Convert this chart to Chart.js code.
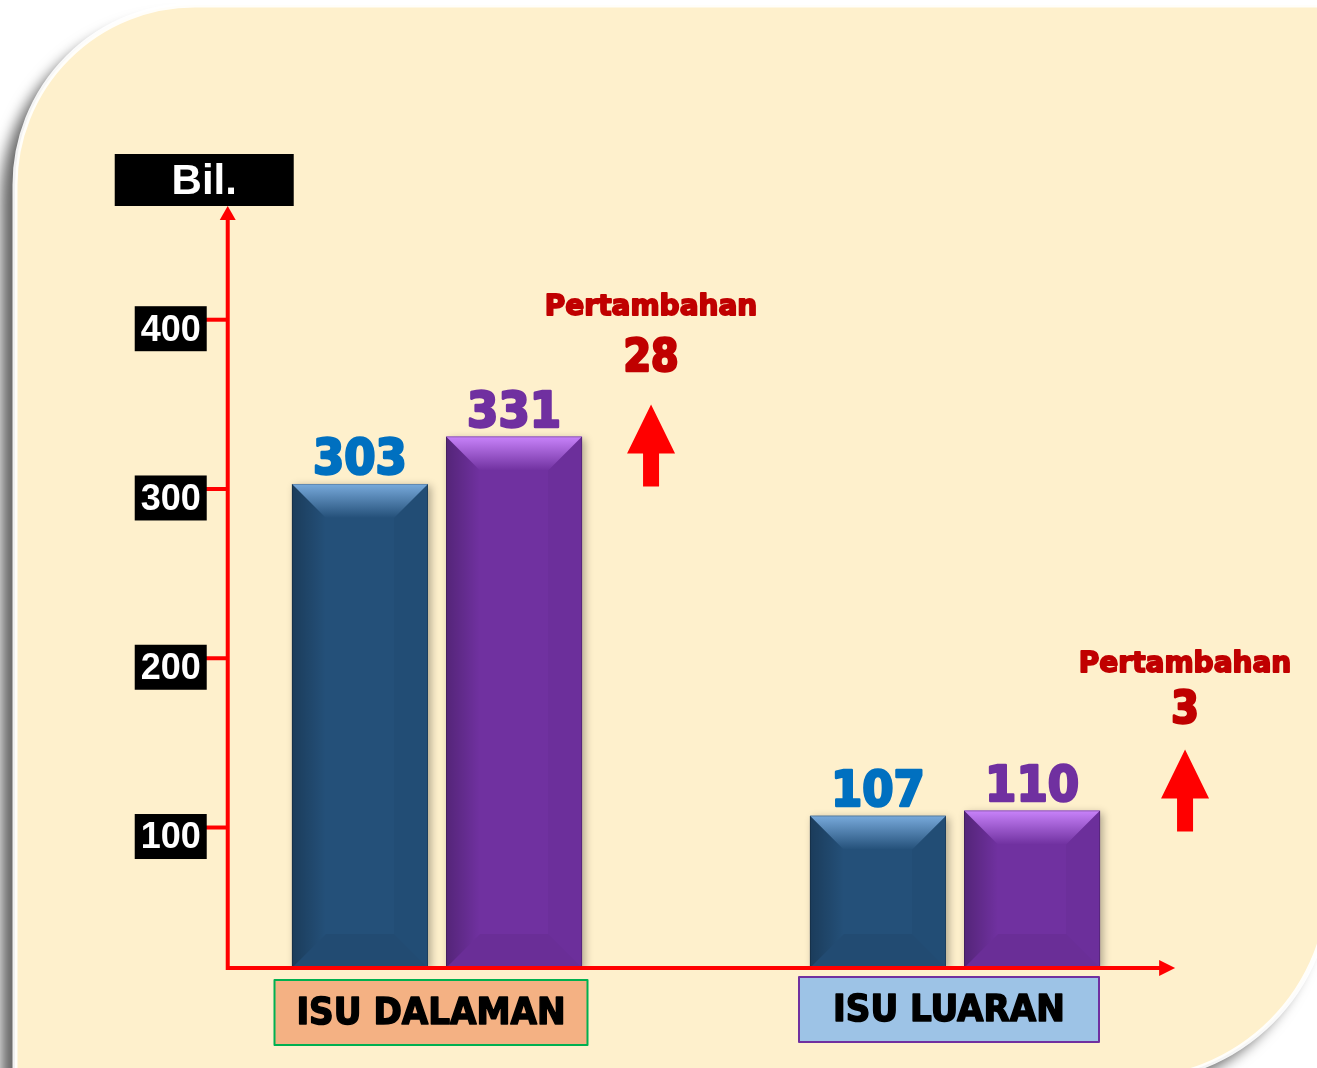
<!DOCTYPE html>
<html>
<head>
<meta charset="utf-8">
<script src="https://cdn.jsdelivr.net/npm/chart.js@4.4.1/dist/chart.umd.min.js"></script>
<style>
  html, body { margin: 0; padding: 0; background: #fff; }
  canvas { display: block; }
</style>
</head>
<body>
<canvas id="chart" width="1317" height="1068"></canvas>
<script>
// data
const categories = ['ISU DALAMAN', 'ISU LUARAN'];
const previousValues = [303, 107];
const currentValues = [331, 110];
const tickValues = [100, 200, 300, 400];
const axisTitle = 'Bil.';
const increaseLabel = 'Pertambahan';
const Y_MIN = 17, Y_MAX = 466;

// styles
const barColors = ['#245079', '#7031A0'];
const labelColors = ['#0070C0', '#7030A0'];
const bevelLight = ['rgba(125,175,225,', 'rgba(205,135,255,'];
const categoryBoxStyles = [
  { fill: '#F4B183', border: '#00B050', width: 313, dy: 12 },
  { fill: '#9DC3E6', border: '#7030A0', width: 300, dy: 9 },
];
// arrow offset from the top of the current-year bar, text offsets from the arrow tip
const annotationStyles = [
  { dx: 137, dy: -32, labelDy: -97, numDy: -45 },
  { dx: 153, dy: -61, labelDy: -85, numDy: -38 },
];
const RED = '#FF0000';
const DARK_RED = '#C00000';
const CONDENSED = '"DejaVu Sans Condensed", "DejaVu Sans", sans-serif';
const WIDE = '"DejaVu Sans", sans-serif';
const ARIAL = '"Liberation Sans", Arial, sans-serif';

function heavyText(ctx, text, x, y, color, weight) {
  ctx.fillStyle = color;
  ctx.strokeStyle = color;
  ctx.lineWidth = weight;
  ctx.lineJoin = 'round';
  ctx.strokeText(text, x, y);
  ctx.fillText(text, x, y);
}

function panelPath(ctx) {
  const x0 = 15, y0 = 5, x1 = 1330, y1 = 1080, r1 = 180, r2 = 200;
  ctx.beginPath();
  ctx.moveTo(x0 + r1, y0);
  ctx.lineTo(x1, y0);
  ctx.lineTo(x1, y1 - r2);
  ctx.arcTo(x1, y1, x1 - r2, y1, r2);
  ctx.lineTo(x0, y1);
  ctx.lineTo(x0, y0 + r1);
  ctx.arcTo(x0, y0, x0 + r1, y0, r1);
  ctx.closePath();
}

const panelPlugin = {
  id: 'panel',
  beforeDraw(chart) {
    const ctx = chart.ctx;
    ctx.save();
    ctx.fillStyle = '#fff';
    ctx.fillRect(0, 0, chart.width, chart.height);
    panelPath(ctx);
    ctx.shadowColor = 'rgba(0,0,0,0.6)';
    ctx.shadowBlur = 14;
    ctx.shadowOffsetX = -14;
    ctx.shadowOffsetY = 14;
    ctx.fillStyle = '#FEF0CC';
    ctx.fill();
    ctx.shadowColor = 'transparent';
    ctx.lineWidth = 5;
    ctx.strokeStyle = 'rgba(255,255,255,0.9)';
    ctx.stroke();
    ctx.restore();
  }
};

function drawBevel(ctx, bar, light) {
  const x0 = bar.x - bar.width / 2, x1 = bar.x + bar.width / 2;
  const top = bar.y, bot = bar.base;
  const b = Math.min(34, (bot - top) / 2);
  // top face
  let g = ctx.createLinearGradient(0, top, 0, top + b);
  g.addColorStop(0, light + '0.95)');
  g.addColorStop(1, light + '0)');
  ctx.fillStyle = g;
  ctx.beginPath();
  ctx.moveTo(x0, top); ctx.lineTo(x1, top); ctx.lineTo(x1 - b, top + b); ctx.lineTo(x0 + b, top + b);
  ctx.closePath(); ctx.fill();
  // left side
  g = ctx.createLinearGradient(x0, 0, x0 + b, 0);
  g.addColorStop(0, 'rgba(0,0,0,0.25)');
  g.addColorStop(1, 'rgba(0,0,0,0)');
  ctx.fillStyle = g;
  ctx.beginPath();
  ctx.moveTo(x0, top); ctx.lineTo(x0 + b, top + b); ctx.lineTo(x0 + b, bot - b); ctx.lineTo(x0, bot);
  ctx.closePath(); ctx.fill();
  // right side
  ctx.fillStyle = 'rgba(0,0,0,0.03)';
  ctx.beginPath();
  ctx.moveTo(x1, top); ctx.lineTo(x1 - b, top + b); ctx.lineTo(x1 - b, bot - b); ctx.lineTo(x1, bot);
  ctx.closePath(); ctx.fill();
  // bottom face
  ctx.fillStyle = 'rgba(0,0,0,0.05)';
  ctx.beginPath();
  ctx.moveTo(x0, bot); ctx.lineTo(x1, bot); ctx.lineTo(x1 - b, bot - b); ctx.lineTo(x0 + b, bot - b);
  ctx.closePath(); ctx.fill();
  // outline
  ctx.strokeStyle = 'rgba(0,0,0,0.2)';
  ctx.lineWidth = 1;
  ctx.strokeRect(x0 + 0.5, top + 0.5, bar.width - 1, bot - top - 1);
}

const decorPlugin = {
  id: 'decor',
  beforeDatasetsDraw(chart) {
    const ctx = chart.ctx;
    ctx.save();
    ctx.shadowColor = 'rgba(0,0,0,0.3)';
    ctx.shadowBlur = 8;
    ctx.shadowOffsetX = 3;
    ctx.shadowOffsetY = 2;
  },
  afterDatasetsDraw(chart) {
    const ctx = chart.ctx;
    ctx.restore();
    const xs = chart.scales.x, ys = chart.scales.y;
    const ax = xs.getPixelForValue(-0.404);
    const bottom = ys.getPixelForValue(ys.min);
    const top = ys.getPixelForValue(ys.max);
    const endX = xs.getPixelForValue(1.425);

    ctx.save();
    // bevels and value labels
    chart.data.datasets.forEach((ds, di) => {
      const meta = chart.getDatasetMeta(di);
      meta.data.forEach((bar, i) => {
        drawBevel(ctx, bar, bevelLight[di]);
        ctx.font = 'bold 50px ' + CONDENSED;
        ctx.textAlign = 'center';
        ctx.textBaseline = 'alphabetic';
        heavyText(ctx, String(ds.data[i]), bar.x, bar.y - 10, labelColors[di], 2.5);
      });
    });

    // axes
    ctx.strokeStyle = RED;
    ctx.fillStyle = RED;
    ctx.lineWidth = 4;
    ctx.beginPath();
    ctx.moveTo(ax, bottom + 2);
    ctx.lineTo(ax, top + 12);
    ctx.moveTo(ax - 2, bottom);
    ctx.lineTo(endX - 14, bottom);
    ctx.stroke();
    ctx.beginPath();
    ctx.moveTo(ax, top - 2); ctx.lineTo(ax + 8, top + 12); ctx.lineTo(ax - 8, top + 12);
    ctx.closePath(); ctx.fill();
    ctx.beginPath();
    ctx.moveTo(endX, bottom); ctx.lineTo(endX - 16, bottom - 8); ctx.lineTo(endX - 16, bottom + 8);
    ctx.closePath(); ctx.fill();

    // ticks
    tickValues.forEach(t => {
      const y = ys.getPixelForValue(t);
      ctx.strokeStyle = RED;
      ctx.lineWidth = 4;
      ctx.beginPath();
      ctx.moveTo(ax - 23, y); ctx.lineTo(ax, y);
      ctx.stroke();
      ctx.fillStyle = '#000';
      ctx.fillRect(ax - 93, y + 9 - 22.5, 72, 45);
      ctx.font = 'bold 36px ' + ARIAL;
      ctx.textAlign = 'center';
      ctx.textBaseline = 'middle';
      ctx.fillStyle = '#fff';
      ctx.fillText(String(t), ax - 57, y + 11);
    });

    // axis title
    ctx.fillStyle = '#000';
    ctx.fillRect(ax - 113, top - 54, 179, 52);
    ctx.fillStyle = '#fff';
    ctx.font = 'bold 42px ' + ARIAL;
    ctx.textAlign = 'center';
    ctx.textBaseline = 'middle';
    ctx.fillText(axisTitle, ax - 23.5, top - 26);

    // category boxes
    categories.forEach((c, i) => {
      const st = categoryBoxStyles[i];
      const cx = xs.getPixelForValue(i) - 6;
      const by = bottom + st.dy;
      ctx.fillStyle = st.fill;
      ctx.fillRect(cx - st.width / 2, by, st.width, 65);
      ctx.strokeStyle = st.border;
      ctx.lineWidth = 2;
      ctx.strokeRect(cx - st.width / 2, by, st.width, 65);
      ctx.font = 'bold 38px ' + CONDENSED;
      ctx.textAlign = 'center';
      ctx.textBaseline = 'middle';
      heavyText(ctx, c, cx, by + 34, '#000', 1.5);
    });

    // increase annotations
    const currMeta = chart.getDatasetMeta(1);
    categories.forEach((c, i) => {
      const bar = currMeta.data[i];
      const an = annotationStyles[i];
      const x = bar.x + an.dx;
      const tip = bar.y + an.dy;
      ctx.fillStyle = RED;
      ctx.beginPath();
      ctx.moveTo(x, tip);
      ctx.lineTo(x + 24, tip + 49);
      ctx.lineTo(x + 8, tip + 49);
      ctx.lineTo(x + 8, tip + 82);
      ctx.lineTo(x - 8, tip + 82);
      ctx.lineTo(x - 8, tip + 49);
      ctx.lineTo(x - 24, tip + 49);
      ctx.closePath();
      ctx.fill();
      ctx.textAlign = 'center';
      ctx.textBaseline = 'middle';
      ctx.font = 'bold 28px ' + WIDE;
      heavyText(ctx, increaseLabel, x, tip + an.labelDy, DARK_RED, 1.8);
      ctx.font = 'bold 44px ' + CONDENSED;
      heavyText(ctx, String(currentValues[i] - previousValues[i]), x, tip + an.numDy, DARK_RED, 2.5);
    });
    ctx.restore();
  }
};

new Chart(document.getElementById('chart'), {
  type: 'bar',
  data: {
    labels: categories,
    datasets: [
      { data: previousValues, backgroundColor: barColors[0], borderWidth: 0, base: Y_MIN,
        categoryPercentage: 0.595, barPercentage: 0.883 },
      { data: currentValues, backgroundColor: barColors[1], borderWidth: 0, base: Y_MIN,
        categoryPercentage: 0.595, barPercentage: 0.883 },
    ],
  },
  options: {
    responsive: false,
    animation: false,
    devicePixelRatio: 1,
    layout: { padding: { left: 178, right: 103, top: 208, bottom: 100 } },
    plugins: {
      legend: { display: false },
      tooltip: { enabled: false },
    },
    scales: {
      x: { display: false },
      y: { display: false, min: Y_MIN, max: Y_MAX },
    },
  },
  plugins: [panelPlugin, decorPlugin],
});
</script>
</body>
</html>
